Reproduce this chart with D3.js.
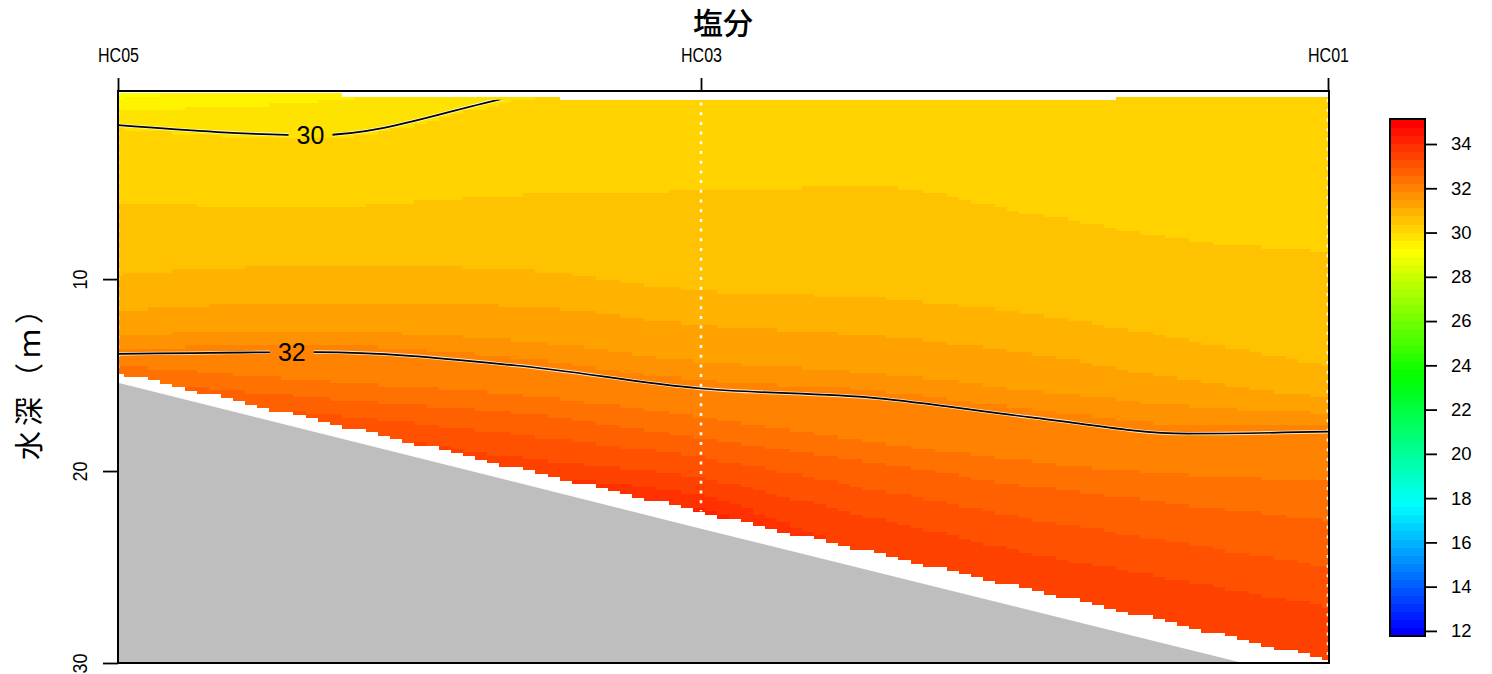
<!DOCTYPE html>
<html>
<head>
<meta charset="utf-8">
<script src="https://cdn.jsdelivr.net/npm/d3@7"></script>
<style>
  body { margin: 0; background: #fff; }
  text { font-family: "Liberation Sans", Arial, sans-serif; fill: #000; }
  .cjk { font-family: "Noto Sans CJK JP", "Noto Sans CJK SC", sans-serif; }
</style>
</head>
<body>
<svg id="chart" width="1492" height="674"></svg>
<script>
// stations along the section (distance in km, depths in m)
var stations = ["HC05", "HC03", "HC01"];
var stationDist = [0, 5.3, 11.0];
var stationTop = [0.22, 0.70, 0.52];
var stationBottom = [14.84, 22.1, 29.8];
var waterDepth = [15.4, 23.0, 31.1];

// depth of each isohaline at a few positions along the section
var profileDist = [0, 1.81, 3.62, 5.3, 6.89, 8.30, 9.72, 11.0];
var levels = [29.29, 29.66, 30.0, 30.39, 30.75, 31.12, 31.48, 32.0, 32.21, 32.58, 32.94, 33.31, 33.67, 34.04, 34.40];
var iso2929 = [0.6, -0.5, -2.0, -4.0, -4.0, -4.0, -4.0, -4.0];
var iso2966 = [1.2, 0.8, -0.8, -3.0, -3.0, -3.0, -3.0, -3.0];
var iso3000 = [1.98, 2.5, 0.45, -1.5, -1.8, -1.8, -1.8, -1.8];
var iso3039 = [6.1, 6.3, 5.7, 5.5, 5.3, 6.7, 8.1, 8.7];
var iso3075 = [9.8, 9.3, 9.5, 10.6, 11.0, 11.8, 13.2, 14.5];
var iso3112 = [11.7, 11.25, 11.45, 12.4, 13.0, 13.9, 15.3, 16.2];
var iso3148 = [12.9, 12.7, 13.2, 14.3, 14.9, 15.8, 16.6, 17.0];
var iso3200 = [13.9, 13.8, 14.5, 15.7, 16.2, 17.2, 18.05, 17.95];
var iso3221 = [14.5, 15.3, 16.0, 17.2, 18.5, 19.5, 20.2, 20.5];
var iso3258 = [15.3, 16.2, 17.0, 18.3, 19.6, 20.8, 21.8, 22.6];
var iso3294 = [16.0, 17.0, 18.1, 19.3, 21.0, 22.5, 23.8, 25.0];
var iso3331 = [16.7, 17.8, 19.3, 20.4, 22.5, 24.3, 25.8, 27.1];
var iso3367 = [17.5, 18.8, 20.2, 21.3, 24.5, 27.0, 29.0, 30.5];
var iso3404 = [18.3, 19.6, 20.9, 22.0, 26.0, 29.0, 31.0, 33.0];
var iso3440 = [19.0, 20.5, 22.0, 23.5, 28.0, 31.0, 33.0, 35.0];
var isoDepths = [iso2929, iso2966, iso3000, iso3039, iso3075, iso3112, iso3148, iso3200,
                 iso3221, iso3258, iso3294, iso3331, iso3367, iso3404, iso3440];

// contour lines and their labels
var contourLevels = [30, 32];
var contourDepths = [iso3000, iso3200];
var contourLabelDist = [1.75, 1.58];

// colour scale
var zlim = [11.77, 35.13];
var nColors = 64;
var legendTicks = [12, 14, 16, 18, 20, 22, 24, 26, 28, 30, 32, 34];
var depthTicks = [10, 20, 30];

var svg = d3.select("#chart");
var x = d3.scaleLinear().domain([0, 11.0]).range([118, 1328]);
var y = d3.scaleLinear().domain([0.2, 30]).range([91, 663]);

// rev(rainbow(64, end = 4/6))
var palette = d3.range(nColors).map(function(i) {
    return d3.hsl(240 * (nColors - 1 - i) / (nColors - 1), 1, 0.5).formatHex();
});
function band(v) {
    var i = Math.floor((v - zlim[0]) / (zlim[1] - zlim[0]) * nColors);
    return Math.max(0, Math.min(nColors - 1, i));
}

// same monotone cubic as d3.curveMonotoneX
function monotone(xs, ys) {
    var n = xs.length, h = [], s = [], m = [];
    for (var i = 0; i < n - 1; i++) { h[i] = xs[i + 1] - xs[i]; s[i] = (ys[i + 1] - ys[i]) / h[i]; }
    for (var i = 1; i < n - 1; i++) {
        var p = (s[i - 1] * h[i] + s[i] * h[i - 1]) / (h[i - 1] + h[i]);
        m[i] = (Math.sign(s[i - 1]) + Math.sign(s[i])) *
            Math.min(Math.abs(s[i - 1]), Math.abs(s[i]), 0.5 * Math.abs(p)) || 0;
    }
    m[0] = (3 * s[0] - m[1]) / 2;
    m[n - 1] = (3 * s[n - 2] - m[n - 2]) / 2;
    return function(xv) {
        var i = Math.max(0, Math.min(n - 2, d3.bisectRight(xs, xv) - 1));
        var t = (xv - xs[i]) / h[i], t2 = t * t, t3 = t2 * t;
        return (2 * t3 - 3 * t2 + 1) * ys[i] + (t3 - 2 * t2 + t) * h[i] * m[i] +
               (-2 * t3 + 3 * t2) * ys[i + 1] + (t3 - t2) * h[i] * m[i + 1];
    };
}
var isoFns = isoDepths.map(function(a) { return monotone(profileDist, a); });

function salinity(xv, d) {
    var ds = isoFns.map(function(f) { return f(xv); });
    var n = ds.length, i = 0;
    if (d <= ds[0]) i = 0;
    else if (d >= ds[n - 1]) i = n - 2;
    else { while (i < n - 2 && d >= ds[i + 1]) i++; }
    return levels[i] + (d - ds[i]) / (ds[i + 1] - ds[i]) * (levels[i + 1] - levels[i]);
}

var topAt = d3.scaleLinear().domain(stationDist).range(stationTop);
var bottomAt = d3.scaleLinear().domain(stationDist).range(stationBottom);

var defs = svg.append("defs");
defs.append("clipPath").attr("id", "plotClip")
    .append("rect").attr("x", 118).attr("y", 91).attr("width", 1211).attr("height", 572);

// gridded section
var dx = 0.11, d0 = 0.40, dd = 0.18;
var cellW = x(dx) - x(0);
var field = svg.append("g").attr("clip-path", "url(#plotClip)")
    .attr("shape-rendering", "crispEdges");
d3.range(0, 11.0 + 1e-9, dx).forEach(function(xv) {
    var top = topAt(xv), bot = bottomAt(xv);
    var runs = [];
    for (var d = d0; d <= bot + 1e-9; d += dd) {
        if (d < top) continue;
        var b = band(salinity(xv, d));
        var last = runs[runs.length - 1];
        if (last && last.b === b) last.d1 = d + dd / 2;
        else runs.push({b: b, d0: d - dd / 2, d1: d + dd / 2});
    }
    field.selectAll(null).data(runs).enter().append("rect")
        .attr("x", x(xv) - cellW / 2)
        .attr("width", cellW + 0.6)
        .attr("y", function(r) { return y(r.d0); })
        .attr("height", function(r) { return y(r.d1) - y(r.d0) + 0.6; })
        .attr("fill", function(r) { return palette[r.b]; });
});

// bottom topography
var bottomPoly = stationDist.map(function(s, i) { return [s, waterDepth[i]]; });
bottomPoly.push([11.0, 40], [0, 40]);
svg.append("path").attr("clip-path", "url(#plotClip)")
    .attr("d", d3.line().x(function(p) { return x(p[0]); }).y(function(p) { return y(p[1]); })(bottomPoly) + "Z")
    .attr("fill", "#bebebe");

// station positions
svg.append("g").selectAll("line").data(stationDist).enter().append("line")
    .attr("x1", function(s) { return x(s); }).attr("x2", function(s) { return x(s); })
    .attr("y1", function(s, i) { return y(stationTop[i] + 0.1); })
    .attr("y2", function(s, i) { return y(stationBottom[i]); })
    .style("stroke", "#fff").style("stroke-width", 2.6).style("stroke-dasharray", "3,6.7");

// contours
var dataPoly = stationDist.map(function(s, i) { return [s, stationTop[i] + 0.12]; })
    .concat(stationDist.map(function(s, i) { return [s, stationBottom[i]]; }).reverse());
defs.append("clipPath").attr("id", "dataClip").append("path")
    .attr("d", d3.line().x(function(p) { return x(p[0]); }).y(function(p) { return y(p[1]); })(dataPoly) + "Z");

var mask = defs.append("mask").attr("id", "labelMask");
mask.append("rect").attr("width", 1492).attr("height", 674).attr("fill", "#fff");
var labelPos = contourLevels.map(function(lv, i) {
    var f = monotone(profileDist, contourDepths[i]);
    return {lv: lv, px: x(contourLabelDist[i]), py: y(f(contourLabelDist[i]))};
});
mask.selectAll(null).data(labelPos).enter().append("rect")
    .attr("x", function(p) { return p.px - 22; }).attr("y", function(p) { return p.py - 15; })
    .attr("width", 44).attr("height", 30).attr("fill", "#000");

var contourLine = d3.line()
    .x(function(d, i) { return x(profileDist[i]); })
    .y(function(d) { return y(d); })
    .curve(d3.curveMonotoneX);
var cg = svg.append("g").attr("clip-path", "url(#dataClip)")
    .append("g").attr("mask", "url(#labelMask)");
contourDepths.forEach(function(dep) {
    cg.append("path").attr("d", contourLine(dep)).attr("fill", "none")
        .style("stroke", "#fff").style("stroke-width", 3.4).style("stroke-opacity", 0.8);
    cg.append("path").attr("d", contourLine(dep)).attr("fill", "none")
        .style("stroke", "#000").style("stroke-width", 1.7);
});
svg.append("g").selectAll("text").data(labelPos).enter().append("text")
    .attr("x", function(p) { return p.px; }).attr("y", function(p) { return p.py; })
    .attr("dy", "0.36em").attr("text-anchor", "middle")
    .style("font-size", "25px")
    .text(function(p) { return p.lv; });

// box
svg.append("rect").attr("x", 118).attr("y", 91).attr("width", 1211).attr("height", 572)
    .attr("fill", "none").style("stroke", "#000").style("stroke-width", 2);

// top axis with station names
var topAxis = svg.append("g").attr("transform", "translate(0,91)")
    .call(d3.axisTop(x).tickValues(stationDist)
        .tickFormat(function(s, i) { return stations[i]; })
        .tickSize(13).tickPadding(16));
topAxis.select(".domain").remove();
topAxis.selectAll("line").style("stroke-width", 1.8);
topAxis.selectAll("text").attr("font-family", null).attr("font-size", null)
    .style("font-size", "20px").attr("textLength", 41).attr("lengthAdjust", "spacingAndGlyphs");

// depth axis
var leftAxis = svg.append("g").attr("transform", "translate(118,0)")
    .call(d3.axisLeft(y).tickValues(depthTicks).tickSize(15));
leftAxis.select(".domain").remove();
leftAxis.selectAll("line").style("stroke-width", 1.8);
leftAxis.selectAll("text").attr("font-family", null).attr("font-size", null)
    .attr("x", null).attr("dy", null)
    .attr("transform", "translate(-31,0) rotate(-90)")
    .style("text-anchor", "middle").style("font-size", "21px")
    .attr("textLength", 20).attr("lengthAdjust", "spacingAndGlyphs");

// titles
svg.append("text").attr("class", "cjk").attr("x", 723).attr("y", 21)
    .attr("dominant-baseline", "central").attr("text-anchor", "middle")
    .style("font-size", "30px").style("font-weight", "500").text("塩分");
svg.append("text").attr("class", "cjk")
    .attr("transform", "translate(27,375) rotate(-90)")
    .attr("dominant-baseline", "central").attr("text-anchor", "middle")
    .style("font-size", "29px").style("letter-spacing", "5px")
    .text("水深（ｍ）");

// colour bar
var ly = d3.scaleLinear().domain(zlim).range([636, 119]);
var step = (zlim[1] - zlim[0]) / nColors;
svg.append("g").attr("shape-rendering", "crispEdges").selectAll("rect").data(palette).enter().append("rect")
    .attr("x", 1390).attr("width", 35)
    .attr("y", function(c, i) { return ly(zlim[0] + (i + 1) * step); })
    .attr("height", function(c, i) { return ly(zlim[0] + i * step) - ly(zlim[0] + (i + 1) * step) + 0.5; })
    .attr("fill", function(c) { return c; });
svg.append("rect").attr("x", 1390).attr("y", 119).attr("width", 35).attr("height", 517)
    .attr("fill", "none").style("stroke", "#000").style("stroke-width", 2);
var legAxis = svg.append("g").attr("transform", "translate(1425,0)")
    .call(d3.axisRight(ly).tickValues(legendTicks).tickSize(12).tickPadding(14));
legAxis.select(".domain").remove();
legAxis.selectAll("line").style("stroke-width", 1.8);
legAxis.selectAll("text").attr("font-family", null).attr("font-size", null).style("font-size", "18.5px");
</script>
</body>
</html>
